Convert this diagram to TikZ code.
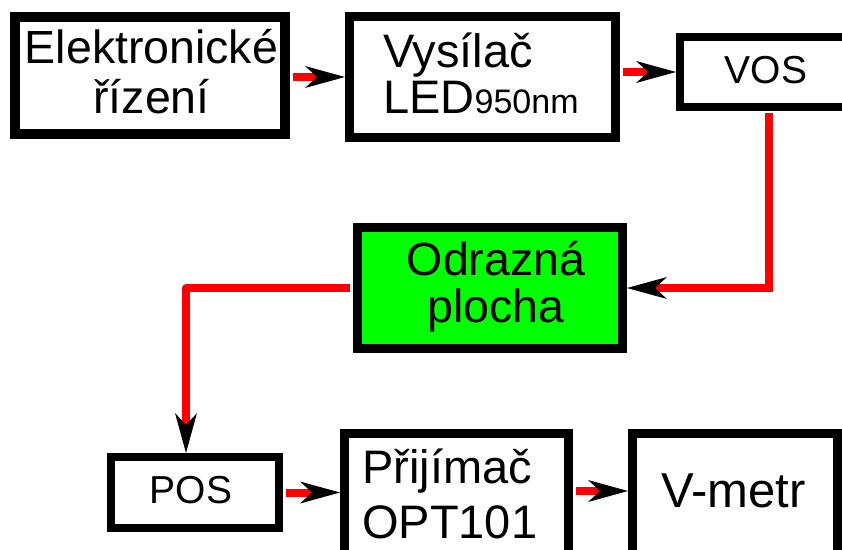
\documentclass[tikz,border=0pt]{standalone}
\usepackage{fontspec}
\setmainfont{Liberation Sans}
\usetikzlibrary{arrows.meta}
\definecolor{lineRed}{RGB}{255,0,0}
\definecolor{plateGreen}{RGB}{0,255,0}
\begin{document}
\begin{tikzpicture}[x=1pt,y=-1pt,
  bx/.style n args={3}{draw=black, fill=white, inner sep=0pt, line width=#1, minimum width=#2, minimum height=#3},
  lbl/.style={inner sep=0pt, anchor=base},
  conn/.style={draw=lineRed, line width=8pt, shorten <=3pt,
    -{Stealth[color=black, fill=black, length=40pt, width=22pt, inset=12pt, line width=0pt]}}]
\clip (0,0) rectangle (842,549);
% boxes
\node[bx={10pt}{270pt}{117pt}] (b1) at (150,75.5) {};
\node[bx={9pt}{266pt}{121pt}] (b2) at (482.5,77) {};
\node[bx={8pt}{186pt}{70pt}] (vos) at (773,72) {};
\node[bx={9pt}{265pt}{121pt}, fill=plateGreen] (green) at (490,288) {};
\node[bx={8pt}{168pt}{71pt}] (pos) at (195,492.5) {};
\node[bx={9pt}{224pt}{142pt}] (prij) at (456.5,504.5) {};
\node[bx={9pt}{205pt}{142pt}] (vm) at (735,504.5) {};
% texts
\node[lbl] (t1) at (151.5,63) {\fontsize{46.5}{50}\selectfont\begin{tabular}[t]{@{}c@{}}Elektronické\\řízení\end{tabular}};
\node[lbl, anchor=base west] (t2) at (383,67) {\fontsize{47}{46}\selectfont\begin{tabular}[t]{@{}l@{}}Vysílač\\LED{\fontsize{34}{34}\selectfont 950nm}\end{tabular}};
\node[lbl] (t3) at (766,83) {\fontsize{39}{39}\selectfont VOS};
\node[lbl] (t4) at (496,275) {\fontsize{46.5}{47}\selectfont\begin{tabular}[t]{@{}c@{}}Odrazná\\plocha\end{tabular}};
\node[lbl] (t5) at (191,503) {\fontsize{39}{39}\selectfont POS};
\node[lbl, anchor=base west] (t6) at (362,483) {\fontsize{47}{55}\selectfont\begin{tabular}[t]{@{}l@{}}Přijímač\\OPT101\end{tabular}};
\node[lbl] (t7) at (733.5,507) {\fontsize{49}{49}\selectfont V-metr};
% connectors
\coordinate (c1) at (0,77);
\coordinate (c3) at (769,288);
\coordinate (c4) at (186,288);
\coordinate (c6) at (0,491);
\draw[conn] (b1.east |- c1) -- (b2.west |- c1);
\draw[conn] (b2.east |- vos.west) -- (vos.west);
\draw[conn, shorten <=2pt] (vos.south -| c3) -- (c3) -- (green.east);
\draw[conn, line join=round] (green.west) -- (c4 |- green.west) -- (c4 |- pos.north);
\draw[conn] (pos.east) -- (pos.east -| prij.west);
\draw[conn] (prij.east |- c6) -- (vm.west |- c6);
\end{tikzpicture}
\end{document}
